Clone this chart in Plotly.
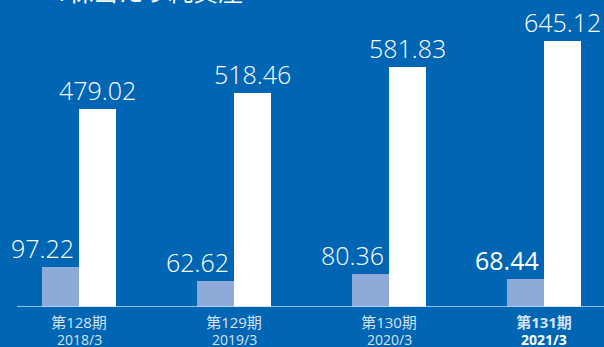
import plotly.graph_objects as go

# Net assets per share (yen) by fiscal period
periods = ["第128期", "第129期", "第130期", "第131期"]
dates = ["2018/3", "2019/3", "2020/3", "2021/3"]
eps_values = [97.22, 62.62, 80.36, 68.44]
bps_values = [479.02, 518.46, 581.83, 645.12]

BG = "#0066B3"
LIGHT = "#8DAAD9"
FONT = "Open Sans, Noto Sans CJK JP, sans-serif"

W, H = 604, 347
bar_w = 37 / 155
xpos = list(range(len(periods)))

fig = go.Figure()
fig.add_trace(go.Bar(x=xpos, y=eps_values, width=bar_w, offset=-bar_w,
                     marker=dict(color=LIGHT, line=dict(width=0))))
fig.add_trace(go.Bar(x=xpos, y=bps_values, width=bar_w, offset=0,
                     marker=dict(color="#FFFFFF", line=dict(width=0))))

last = len(periods) - 1
ticktext = [f"<b>{p}</b>" if i == last else p for i, p in enumerate(periods)]

annotations = []
for i, (a, b) in enumerate(zip(eps_values, bps_values)):
    annotations.append(dict(x=i - bar_w, y=a, xref="x", yref="y", text=f"{a:.2f}",
                            showarrow=False, yanchor="bottom", yshift=0,
                            font=dict(family=FONT, size=25, color="white",
                                      weight=400 if i == last else 300)))
    annotations.append(dict(x=i + bar_w / 2, y=b, xref="x", yref="y", text=f"{b:.2f}",
                            showarrow=False, yanchor="bottom", yshift=0,
                            font=dict(family=FONT, size=25, color="white", weight=300)))
    annotations.append(dict(x=i, y=-21 / 307, xref="x", yref="paper",
                            text=f"<b>{dates[i]}</b>" if i == last else dates[i],
                            showarrow=False, yanchor="top",
                            font=dict(family=FONT, size=14,
                                      color="white" if i == last else "#D6E2F2")))

annotations.append(dict(x=52 / W, y=1 - 10 / 307, xref="paper", yref="paper",
                        text="1株当たり純資産", showarrow=False,
                        xanchor="left", yanchor="bottom",
                        font=dict(family=FONT, size=25, color="white")))

fig.update_layout(
    width=W, height=H,
    margin=dict(l=0, r=0, t=0, b=40, pad=0),
    paper_bgcolor=BG, plot_bgcolor=BG,
    showlegend=False,
    bargap=0, barmode="overlay",
    xaxis=dict(range=[-79 / 155, (W - 79) / 155], tickvals=xpos, ticktext=ticktext,
               showgrid=False, zeroline=False, showline=False, ticks="",
               ticklabelstandoff=5,
               tickfont=dict(family=FONT, size=15, color="#D6E2F2")),
    yaxis=dict(range=[0, 307 / 0.4125], showgrid=False, zeroline=False,
               showline=False, showticklabels=False, ticks=""),
    annotations=annotations,
    shapes=[dict(type="line", xref="paper", yref="y", x0=17 / W, x1=1, y0=0, y1=0,
                 line=dict(color="#C9D8EE", width=1.5))],
)

fig.write_html("out.html")
